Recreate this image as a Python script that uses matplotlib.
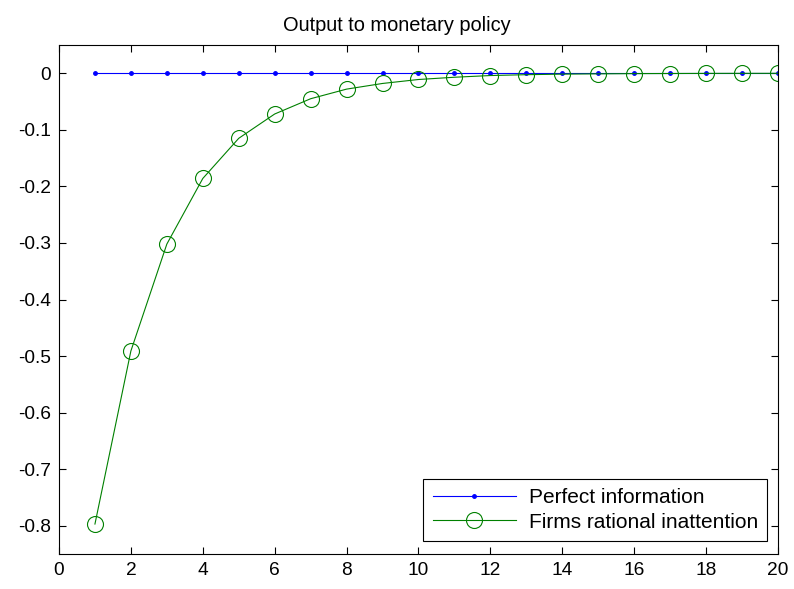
import numpy as np
import matplotlib.pyplot as plt

plt.rcParams['font.family'] = ['Liberation Sans', 'DejaVu Sans']

# -----------------------------
# Datos
# -----------------------------

periods = np.arange(1, 21)

perfect_info = [0.0] * 20

rational_inattention = [
    -0.797, -0.491, -0.302, -0.186, -0.115, -0.072, -0.045, -0.028,
    -0.018, -0.011, -0.007, -0.004, -0.0025, -0.0015, -0.001, -0.0006,
    -0.0004, -0.0002, -0.0001, -0.0001,
]

xticks = np.arange(0, 21, 2)
yticks = [0, -0.1, -0.2, -0.3, -0.4, -0.5, -0.6, -0.7, -0.8]

# -----------------------------
# Figura
# -----------------------------

fig = plt.figure(figsize=(7.94, 5.89), dpi=100)
ax = fig.add_axes([0.0743, 0.0594, 0.9055, 0.8642])

ax.plot(periods, perfect_info, color="blue", lw=0.8, marker=".",
        markersize=5, label="Perfect information")
ax.plot(periods, rational_inattention, color="#008000", lw=0.8, marker="o",
        markersize=11.5, markerfacecolor="none", markeredgewidth=0.8,
        label="Firms rational inattention")

ax.set_xlim(0, 20)
ax.set_ylim(-0.85, 0.05)
ax.set_xticks(xticks)
ax.set_yticks(yticks)
ax.set_yticklabels(["0" if v == 0 else f"{v:g}" for v in yticks])

ax.tick_params(direction="in", top=True, right=True, length=5,
               width=0.8, labelsize=13.8, pad=6)
for s in ax.spines.values():
    s.set_linewidth(0.8)

ax.set_title("Output to monetary policy", fontsize=14.4, pad=10, x=0.47)

leg = ax.legend(loc="lower right", fontsize=15, fancybox=False,
                edgecolor="black", framealpha=1, borderpad=0.45,
                handlelength=4.0, handletextpad=0.6, labelspacing=0.25,
                borderaxespad=0, bbox_to_anchor=(0.985, 0.0255))
leg.get_frame().set_linewidth(0.8)

fig.savefig("out.png", dpi=100)
